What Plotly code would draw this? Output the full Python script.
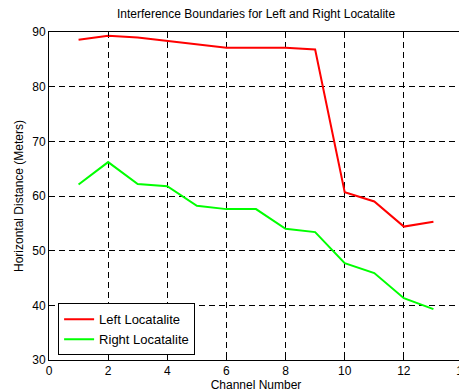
import plotly.graph_objects as go

channels = [1, 2, 3, 4, 5, 6, 7, 8, 9, 10, 11, 12, 13]
left_loc = [88.6, 89.3, 89.0, 88.4, 87.8, 87.1, 87.1, 87.1, 86.8, 60.7, 59.0, 54.4, 55.3]
right_loc = [62.1, 66.2, 62.2, 61.8, 58.2, 57.6, 57.6, 54.0, 53.4, 47.7, 45.9, 41.3, 39.3]

font = "Arial, 'Liberation Sans', sans-serif"

fig = go.Figure()
fig.add_trace(go.Scatter(x=channels, y=left_loc, mode="lines", name="Left Locatalite",
                         line=dict(color="#ff0000", width=2)))
fig.add_trace(go.Scatter(x=channels, y=right_loc, mode="lines", name="Right Locatalite",
                         line=dict(color="#00ff00", width=2)))

axis_common = dict(showline=True, linecolor="black", linewidth=1, mirror="ticks",
                   showgrid=True, gridcolor="black", griddash="6px,4px", gridwidth=1,
                   ticks="inside", ticklen=4, tickcolor="black", zeroline=False,
                   automargin=False, ticklabeloverflow="allow",
                   tickfont=dict(family=font, size=12, color="black"))

fig.update_xaxes(range=[0, 14], dtick=2, tick0=0,
                 title=dict(text="Channel Number", font=dict(family=font, size=12, color="black"), standoff=2),
                 **axis_common)
fig.update_yaxes(range=[30, 90], dtick=10, tick0=30,
                 title=dict(text="Horizontal Distance (Meters)", font=dict(family=font, size=12, color="black"), standoff=6),
                 **axis_common)

fig.update_layout(
    width=459, height=384,
    margin=dict(l=41, r=4, t=24, b=32),
    paper_bgcolor="white", plot_bgcolor="white",
    title=dict(text="Interference Boundaries for Left and Right Locatalite",
               font=dict(family=font, size=12, color="black"),
               x=0.5, xref="paper", y=1, yref="container", yanchor="top", pad=dict(t=2)),
    legend=dict(x=0.022, y=0.014, xanchor="left", yanchor="bottom",
                bordercolor="black", borderwidth=1, bgcolor="white",
                font=dict(family=font, size=13, color="black"),
                tracegroupgap=0),
    showlegend=True,
)

fig.write_html("out.html")
